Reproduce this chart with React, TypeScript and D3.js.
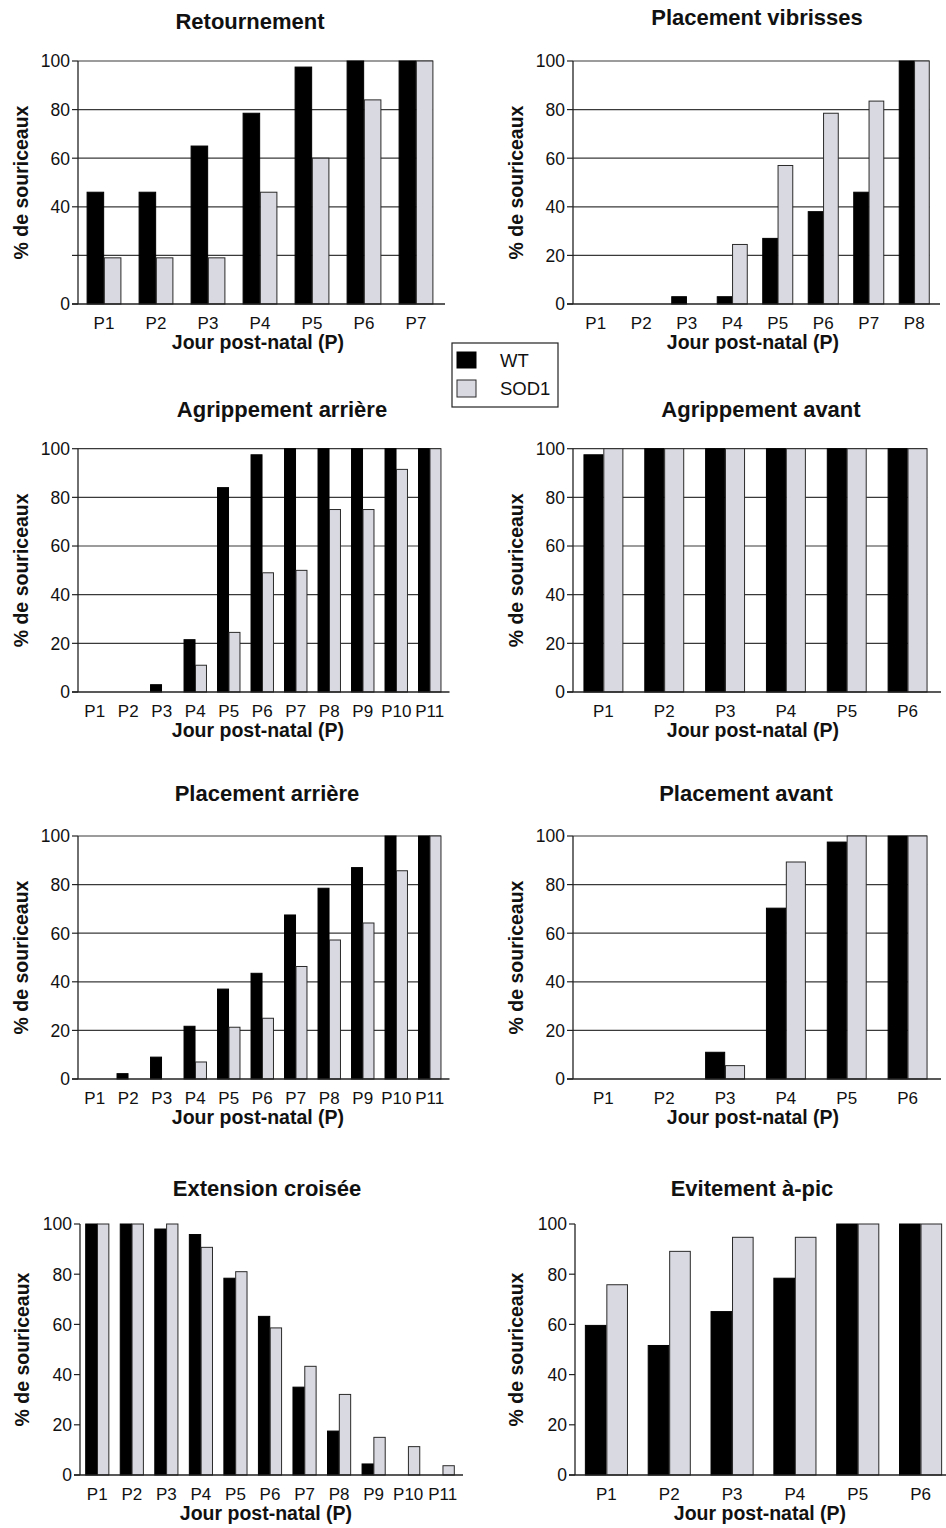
import React from "react";
import * as d3 from "d3";

// ---------- data ----------
const days6 = ["P1", "P2", "P3", "P4", "P5", "P6"];
const days7 = ["P1", "P2", "P3", "P4", "P5", "P6", "P7"];
const days8 = ["P1", "P2", "P3", "P4", "P5", "P6", "P7", "P8"];
const days11 = ["P1", "P2", "P3", "P4", "P5", "P6", "P7", "P8", "P9", "P10", "P11"];

const yTicks = [0, 20, 40, 60, 80, 100];
const seriesNames = ["WT", "SOD1"];

const retournementWT = [46, 46, 65, 78.5, 97.5, 100, 100];
const retournementSOD1 = [19, 19, 19, 46, 60, 84, 100];
const vibrissesWT = [0, 0, 3, 3, 27, 38, 46, 100];
const vibrissesSOD1 = [0, 0, 0, 24.5, 57, 78.5, 83.5, 100];
const agripArriereWT = [0, 0, 3, 21.5, 84, 97.5, 100, 100, 100, 100, 100];
const agripArriereSOD1 = [0, 0, 0, 11, 24.5, 49, 50, 75, 75, 91.5, 100];
const agripAvantWT = [97.5, 100, 100, 100, 100, 100];
const agripAvantSOD1 = [100, 100, 100, 100, 100, 100];
const placArriereWT = [0, 2.2, 9, 21.7, 37, 43.5, 67.5, 78.5, 87, 100, 100];
const placArriereSOD1 = [0, 0, 0, 7, 21.3, 25, 46.3, 57.2, 64.2, 85.7, 100];
const placAvantWT = [0, 0, 11, 70.3, 97.5, 100];
const placAvantSOD1 = [0, 0, 5.5, 89.3, 100, 100];
const extensionWT = [100, 100, 98, 95.8, 78.4, 63.2, 35, 17.5, 4.4, 0, 0];
const extensionSOD1 = [100, 100, 100, 90.7, 81, 58.6, 43.3, 32.1, 15, 11.3, 3.7];
const evitementWT = [59.6, 51.6, 65.1, 78.4, 100, 100];
const evitementSOD1 = [75.8, 89.1, 94.7, 94.7, 100, 100];

// ---------- layout ----------
const FONT = "'Liberation Sans', Arial, Helvetica, sans-serif";
const WT_FILL = "#000000";
const SOD_FILL = "#d9d9e1";
const GRID = "#3a3a3a";

type Panel = {
  title: string;
  cats: string[];
  wt: number[];
  sod: number[];
  x0: number;
  x1: number;
  top: number;
  zero: number;
  pad: number;
  grid: boolean;
  hide20?: boolean;
  titleX: number;
  titleY: number;
  xTitleX: number;
  yTitleX: number;
};

const panels: Panel[] = [
  { title: "Retournement", cats: days7, wt: retournementWT, sod: retournementSOD1, x0: 78, x1: 442, top: 61, zero: 304, pad: 0.35, grid: true, hide20: true, titleX: 250, titleY: 29, xTitleX: 258, yTitleX: 28 },
  { title: "Placement vibrisses", cats: days8, wt: vibrissesWT, sod: vibrissesSOD1, x0: 573, x1: 937, top: 61, zero: 304, pad: 0.34, grid: true, titleX: 757, titleY: 25, xTitleX: 753, yTitleX: 523 },
  { title: "Agrippement arrière", cats: days11, wt: agripArriereWT, sod: agripArriereSOD1, x0: 78, x1: 446.5, top: 448.7, zero: 692, pad: 0.33, grid: true, titleX: 282, titleY: 417, xTitleX: 258, yTitleX: 28 },
  { title: "Agrippement avant", cats: days6, wt: agripAvantWT, sod: agripAvantSOD1, x0: 573, x1: 938, top: 448.7, zero: 692, pad: 0.36, grid: true, titleX: 761, titleY: 417, xTitleX: 753, yTitleX: 523 },
  { title: "Placement arrière", cats: days11, wt: placArriereWT, sod: placArriereSOD1, x0: 78, x1: 446.5, top: 836, zero: 1079, pad: 0.33, grid: true, titleX: 267, titleY: 801, xTitleX: 258, yTitleX: 28 },
  { title: "Placement avant", cats: days6, wt: placAvantWT, sod: placAvantSOD1, x0: 573, x1: 938, top: 836, zero: 1079, pad: 0.36, grid: true, titleX: 746, titleY: 801, xTitleX: 753, yTitleX: 523 },
  { title: "Extension croisée", cats: days11, wt: extensionWT, sod: extensionSOD1, x0: 80, x1: 460, top: 1224, zero: 1475, pad: 0.33, grid: false, titleX: 267, titleY: 1196, xTitleX: 266, yTitleX: 29 },
  { title: "Evitement à-pic", cats: days6, wt: evitementWT, sod: evitementSOD1, x0: 575, x1: 952, top: 1224, zero: 1475, pad: 0.33, grid: false, titleX: 752, titleY: 1196, xTitleX: 760, yTitleX: 523 },
];

function BarPanel({ p }: { p: Panel }) {
  const x = d3.scaleBand<string>().domain(p.cats).range([p.x0, p.x1]).paddingInner(p.pad).paddingOuter(p.pad / 2);
  const sub = d3.scaleBand<string>().domain(seriesNames).range([0, x.bandwidth()]).paddingInner(0.04);
  const y = d3.scaleLinear().domain([0, 100]).range([p.zero, p.top]);
  const lastCat = p.cats[p.cats.length - 1];
  const gridEnd = (x(lastCat) as number) + x.bandwidth();
  const midY = (p.top + p.zero) / 2;

  const bars: { key: string; xPos: number; v: number; fill: string; stroke: string }[] = [];
  p.cats.forEach((c, i) => {
    bars.push({ key: c + "wt", xPos: (x(c) as number) + (sub("WT") as number), v: p.wt[i], fill: WT_FILL, stroke: "#000" });
    bars.push({ key: c + "sod", xPos: (x(c) as number) + (sub("SOD1") as number), v: p.sod[i], fill: SOD_FILL, stroke: "#2a2a2a" });
  });

  return (
    <g>
      <text x={p.titleX} y={p.titleY} textAnchor="middle" fontFamily={FONT} fontWeight="bold" fontSize={22} fill="#111">
        {p.title}
      </text>
      {p.grid &&
        yTicks.filter((t) => t > 0).map((t) => (
          <line key={"g" + t} x1={p.x0} x2={gridEnd} y1={y(t)} y2={y(t)} stroke={GRID} strokeWidth={1.2} />
        ))}
      {yTicks.map((t) => (
        <line key={"t" + t} x1={p.x0 - 6} x2={p.x0} y1={y(t)} y2={y(t)} stroke="#222" strokeWidth={1.2} />
      ))}
      {bars.filter((b) => b.v > 0).map((b) => (
        <rect key={b.key} x={b.xPos} y={y(b.v)} width={sub.bandwidth()} height={p.zero - y(b.v)} fill={b.fill} stroke={b.stroke} strokeWidth={1} />
      ))}
      <line x1={p.x0} x2={p.x0} y1={p.top} y2={p.zero} stroke="#222" strokeWidth={1.3} />
      <line x1={p.x0 - 6} x2={Math.min(p.x1 + 3, 946)} y1={p.zero} y2={p.zero} stroke="#222" strokeWidth={1.3} />
      {yTicks.filter((t) => !(p.hide20 && t === 20)).map((t) => (
        <text key={"l" + t} x={p.x0 - 8} y={y(t)} dy="0.36em" textAnchor="end" fontFamily={FONT} fontSize={17.5} fill="#111">
          {t}
        </text>
      ))}
      {p.cats.map((c) => (
        <text key={"c" + c} x={(x(c) as number) + x.bandwidth() / 2} y={p.zero + 25} textAnchor="middle" fontFamily={FONT} fontSize={17} fill="#111">
          {c}
        </text>
      ))}
      <text x={p.xTitleX} y={p.zero + 44.5} textAnchor="middle" fontFamily={FONT} fontWeight="bold" fontSize={19.5} fill="#111">
        Jour post-natal (P)
      </text>
      <text transform={`translate(${p.yTitleX},${midY}) rotate(-90)`} textAnchor="middle" fontFamily={FONT} fontWeight="bold" fontSize={19.5} fill="#111">
        % de souriceaux
      </text>
    </g>
  );
}

export default function App() {
  return (
    <svg width={946} height={1528} style={{ position: "absolute", left: 0, top: 0, background: "#fff" }}>
      <rect x={0} y={0} width={946} height={1528} fill="#fff" />
      {panels.map((p) => (
        <BarPanel key={p.title} p={p} />
      ))}
      <g>
        <rect x={452} y={343} width={106} height={64} fill="#fff" stroke="#222" strokeWidth={1.2} />
        <rect x={457} y={352} width={19} height={16} fill={WT_FILL} stroke="#000" />
        <rect x={457} y={380} width={19} height={17} fill={SOD_FILL} stroke="#2a2a2a" />
        <text x={500} y={367} fontFamily={FONT} fontSize={18.5} fill="#111">{seriesNames[0]}</text>
        <text x={500} y={395} fontFamily={FONT} fontSize={18.5} fill="#111">{seriesNames[1]}</text>
      </g>
    </svg>
  );
}
